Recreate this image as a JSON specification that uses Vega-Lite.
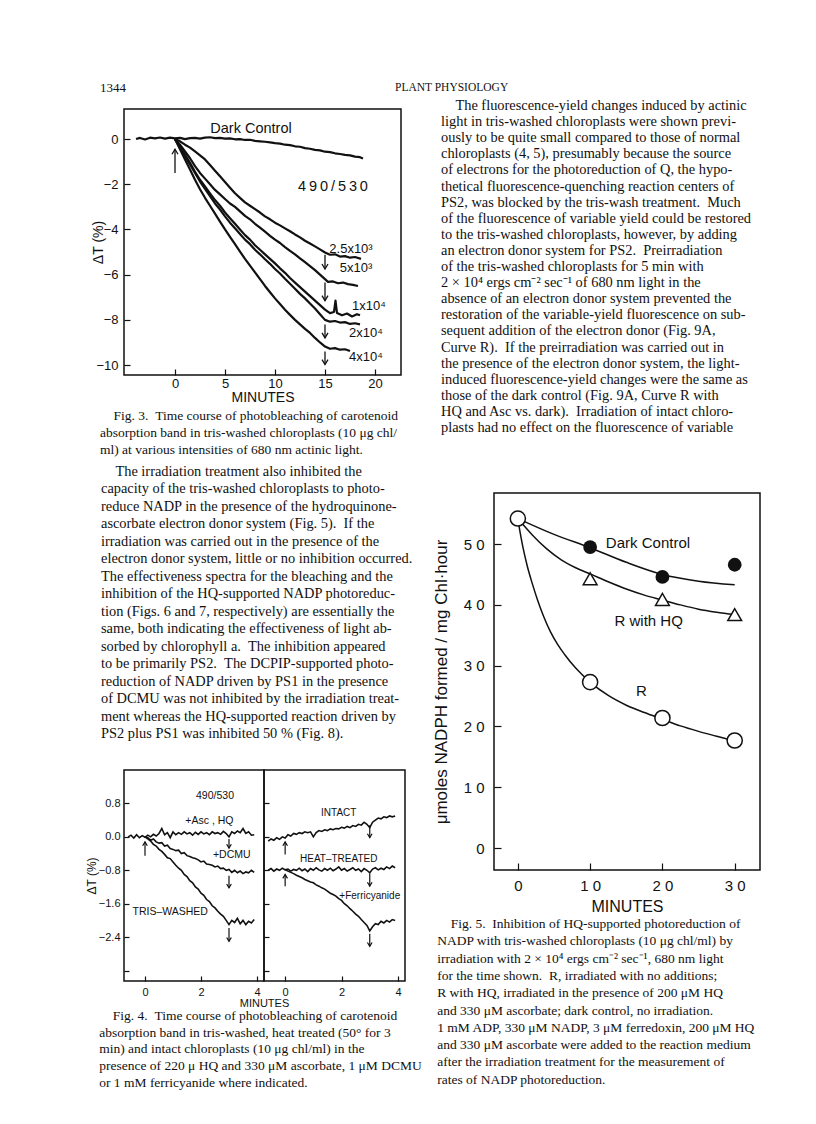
{
"$schema": "https://vega.github.io/schema/vega-lite/v6.json",
"background": "white",
"padding": {"left": 84, "top": 82, "right": 5, "bottom": 5},
"config": {
  "view": {"stroke": "#111", "strokeWidth": 1.5},
  "axis": {"domain": false, "grid": false, "tickColor": "#111", "tickWidth": 1.2, "labelColor": "#111", "titleColor": "#111", "labelFont": "Liberation Sans", "titleFont": "Liberation Sans", "titleFontWeight": "normal", "labelFlush": false, "labelOverlap": false},
  "title": {"color": "#111", "font": "Liberation Serif", "fontWeight": "normal", "fontSize": 13.5}
},
"datasets": {
  "header": [{"w": "1344"}, {"w": "PLANT PHYSIOLOGY"}],
  "rt": [
    {"n": 1, "s": "\u200B\u2003The fluorescence-yield changes induced by actinic"},
    {"n": 2, "s": "light in tris-washed chloroplasts were shown previ-"},
    {"n": 3, "s": "ously to be quite small compared to those of normal"},
    {"n": 4, "s": "chloroplasts (4, 5), presumably because the source"},
    {"n": 5, "s": "of electrons for the photoreduction of Q, the hypo-"},
    {"n": 6, "s": "thetical fluorescence-quenching reaction centers of"},
    {"n": 7, "s": "PS2, was blocked by the tris-wash treatment.\u2002Much"},
    {"n": 8, "s": "of the fluorescence of variable yield could be restored"},
    {"n": 9, "s": "to the tris-washed chloroplasts, however, by adding"},
    {"n": 10, "s": "an electron donor system for PS2.\u2002Preirradiation"},
    {"n": 11, "s": "of the tris-washed chloroplasts for 5 min with"},
    {"n": 12, "s": "2 × 10⁴ ergs cm⁻² sec⁻¹ of 680 nm light in the"},
    {"n": 13, "s": "absence of an electron donor system prevented the"},
    {"n": 14, "s": "restoration of the variable-yield fluorescence on sub-"},
    {"n": 15, "s": "sequent addition of the electron donor (Fig. 9A,"},
    {"n": 16, "s": "Curve R).\u2002If the preirradiation was carried out in"},
    {"n": 17, "s": "the presence of the electron donor system, the light-"},
    {"n": 18, "s": "induced fluorescence-yield changes were the same as"},
    {"n": 19, "s": "those of the dark control (Fig. 9A, Curve R with"},
    {"n": 20, "s": "HQ and Asc vs. dark).\u2002Irradiation of intact chloro-"},
    {"n": 21, "s": "plasts had no effect on the fluorescence of variable"}
  ],
  "lt": [
    {"n": 1, "s": "\u200B\u2003The irradiation treatment also inhibited the"},
    {"n": 2, "s": "capacity of the tris-washed chloroplasts to photo-"},
    {"n": 3, "s": "reduce NADP in the presence of the hydroquinone-"},
    {"n": 4, "s": "ascorbate electron donor system (Fig. 5).\u2002If the"},
    {"n": 5, "s": "irradiation was carried out in the presence of the"},
    {"n": 6, "s": "electron donor system, little or no inhibition occurred."},
    {"n": 7, "s": "The effectiveness spectra for the bleaching and the"},
    {"n": 8, "s": "inhibition of the HQ-supported NADP photoreduc-"},
    {"n": 9, "s": "tion (Figs. 6 and 7, respectively) are essentially the"},
    {"n": 10, "s": "same, both indicating the effectiveness of light ab-"},
    {"n": 11, "s": "sorbed by chlorophyll a.\u2002The inhibition appeared"},
    {"n": 12, "s": "to be primarily PS2.\u2002The DCPIP-supported photo-"},
    {"n": 13, "s": "reduction of NADP driven by PS1 in the presence"},
    {"n": 14, "s": "of DCMU was not inhibited by the irradiation treat-"},
    {"n": 15, "s": "ment whereas the HQ-supported reaction driven by"},
    {"n": 16, "s": "PS2 plus PS1 was inhibited 50 % (Fig. 8)."}
  ],
  "fig3": [
    {"s":"dc","t":-3.9,"v":0.0},{"s":"dc","t":-3.5,"v":0.05},{"s":"dc","t":-3,"v":-0.02},{"s":"dc","t":-2.5,"v":0.06},{"s":"dc","t":-2,"v":0.03},{"s":"dc","t":-1.5,"v":0.07},{"s":"dc","t":-1,"v":0.02},{"s":"dc","t":-0.5,"v":0.06},{"s":"dc","t":0,"v":0.03},{"s":"dc","t":0.5,"v":0.05},{"s":"dc","t":1,"v":0.0},{"s":"dc","t":1.5,"v":0.04},{"s":"dc","t":2,"v":0.05},{"s":"dc","t":2.5,"v":0.02},{"s":"dc","t":3,"v":0.06},{"s":"dc","t":3.5,"v":0.08},{"s":"dc","t":4,"v":0.04},{"s":"dc","t":4.5,"v":0.05},{"s":"dc","t":5,"v":0.02},{"s":"dc","t":5.5,"v":0.03},{"s":"dc","t":6,"v":-0.01},{"s":"dc","t":6.5,"v":0.0},{"s":"dc","t":7,"v":-0.04},{"s":"dc","t":7.5,"v":-0.03},{"s":"dc","t":8,"v":-0.08},{"s":"dc","t":8.5,"v":-0.1},{"s":"dc","t":9,"v":-0.12},{"s":"dc","t":9.5,"v":-0.15},{"s":"dc","t":10,"v":-0.18},{"s":"dc","t":10.5,"v":-0.2},{"s":"dc","t":11,"v":-0.25},{"s":"dc","t":11.5,"v":-0.27},{"s":"dc","t":12,"v":-0.32},{"s":"dc","t":12.5,"v":-0.34},{"s":"dc","t":13,"v":-0.4},{"s":"dc","t":13.5,"v":-0.43},{"s":"dc","t":14,"v":-0.48},{"s":"dc","t":14.5,"v":-0.5},{"s":"dc","t":15,"v":-0.56},{"s":"dc","t":15.5,"v":-0.58},{"s":"dc","t":16,"v":-0.63},{"s":"dc","t":16.5,"v":-0.66},{"s":"dc","t":17,"v":-0.7},{"s":"dc","t":17.5,"v":-0.72},{"s":"dc","t":18,"v":-0.78},{"s":"dc","t":18.5,"v":-0.8},{"s":"dc","t":18.8,"v":-0.86},
    {"s":"a","t":0,"v":0},{"s":"a","t":0.5,"v":-0.1},{"s":"a","t":1,"v":-0.25},{"s":"a","t":1.5,"v":-0.38},{"s":"a","t":2,"v":-0.55},{"s":"a","t":2.5,"v":-0.72},{"s":"a","t":3,"v":-0.9},{"s":"a","t":3.5,"v":-1.15},{"s":"a","t":4,"v":-1.4},{"s":"a","t":4.5,"v":-1.65},{"s":"a","t":5,"v":-1.9},{"s":"a","t":5.5,"v":-2.15},{"s":"a","t":6,"v":-2.4},{"s":"a","t":6.5,"v":-2.6},{"s":"a","t":7,"v":-2.8},{"s":"a","t":7.5,"v":-2.95},{"s":"a","t":8,"v":-3.1},{"s":"a","t":8.5,"v":-3.25},{"s":"a","t":9,"v":-3.42},{"s":"a","t":9.5,"v":-3.55},{"s":"a","t":10,"v":-3.7},{"s":"a","t":10.5,"v":-3.82},{"s":"a","t":11,"v":-3.95},{"s":"a","t":11.5,"v":-4.08},{"s":"a","t":12,"v":-4.22},{"s":"a","t":12.5,"v":-4.35},{"s":"a","t":13,"v":-4.5},{"s":"a","t":13.5,"v":-4.62},{"s":"a","t":14,"v":-4.75},{"s":"a","t":14.5,"v":-4.88},{"s":"a","t":15,"v":-5.02},{"s":"a","t":15.5,"v":-5.12},{"s":"a","t":16,"v":-5.1},{"s":"a","t":16.5,"v":-5.2},{"s":"a","t":17,"v":-5.18},{"s":"a","t":17.5,"v":-5.25},{"s":"a","t":18,"v":-5.22},{"s":"a","t":18.6,"v":-5.3},
    {"s":"b","t":0,"v":0},{"s":"b","t":0.5,"v":-0.25},{"s":"b","t":1,"v":-0.55},{"s":"b","t":1.5,"v":-0.85},{"s":"b","t":2,"v":-1.2},{"s":"b","t":2.5,"v":-1.5},{"s":"b","t":3,"v":-1.75},{"s":"b","t":3.5,"v":-2.0},{"s":"b","t":4,"v":-2.25},{"s":"b","t":4.5,"v":-2.45},{"s":"b","t":5,"v":-2.65},{"s":"b","t":5.5,"v":-2.85},{"s":"b","t":6,"v":-3.0},{"s":"b","t":6.5,"v":-3.2},{"s":"b","t":7,"v":-3.4},{"s":"b","t":7.5,"v":-3.55},{"s":"b","t":8,"v":-3.75},{"s":"b","t":8.5,"v":-3.92},{"s":"b","t":9,"v":-4.1},{"s":"b","t":9.5,"v":-4.28},{"s":"b","t":10,"v":-4.45},{"s":"b","t":10.5,"v":-4.6},{"s":"b","t":11,"v":-4.78},{"s":"b","t":11.5,"v":-4.95},{"s":"b","t":12,"v":-5.1},{"s":"b","t":12.5,"v":-5.28},{"s":"b","t":13,"v":-5.45},{"s":"b","t":13.5,"v":-5.62},{"s":"b","t":14,"v":-5.8},{"s":"b","t":14.5,"v":-6.0},{"s":"b","t":15,"v":-6.2},{"s":"b","t":15.3,"v":-6.32},{"s":"b","t":15.8,"v":-6.3},{"s":"b","t":16.3,"v":-6.38},{"s":"b","t":16.8,"v":-6.35},{"s":"b","t":17.3,"v":-6.42},{"s":"b","t":17.8,"v":-6.45},{"s":"b","t":18.3,"v":-6.5},
    {"s":"c","t":0,"v":0},{"s":"c","t":0.5,"v":-0.35},{"s":"c","t":1,"v":-0.7},{"s":"c","t":1.5,"v":-1.05},{"s":"c","t":2,"v":-1.45},{"s":"c","t":2.5,"v":-1.8},{"s":"c","t":3,"v":-2.1},{"s":"c","t":3.5,"v":-2.4},{"s":"c","t":4,"v":-2.7},{"s":"c","t":4.5,"v":-2.95},{"s":"c","t":5,"v":-3.25},{"s":"c","t":5.5,"v":-3.5},{"s":"c","t":6,"v":-3.75},{"s":"c","t":6.5,"v":-4.0},{"s":"c","t":7,"v":-4.25},{"s":"c","t":7.5,"v":-4.45},{"s":"c","t":8,"v":-4.7},{"s":"c","t":8.5,"v":-4.9},{"s":"c","t":9,"v":-5.1},{"s":"c","t":9.5,"v":-5.3},{"s":"c","t":10,"v":-5.5},{"s":"c","t":10.5,"v":-5.72},{"s":"c","t":11,"v":-5.92},{"s":"c","t":11.5,"v":-6.15},{"s":"c","t":12,"v":-6.35},{"s":"c","t":12.5,"v":-6.55},{"s":"c","t":13,"v":-6.75},{"s":"c","t":13.5,"v":-6.95},{"s":"c","t":14,"v":-7.15},{"s":"c","t":14.5,"v":-7.35},{"s":"c","t":15,"v":-7.55},{"s":"c","t":15.5,"v":-7.7},{"s":"c","t":15.9,"v":-7.65},{"s":"c","t":16.05,"v":-7.15},{"s":"c","t":16.2,"v":-7.7},{"s":"c","t":16.7,"v":-7.8},{"s":"c","t":17.2,"v":-7.72},{"s":"c","t":17.7,"v":-7.85},{"s":"c","t":18.2,"v":-7.75},{"s":"c","t":18.5,"v":-7.8},
    {"s":"e","t":0,"v":0},{"s":"e","t":0.5,"v":-0.38},{"s":"e","t":1,"v":-0.75},{"s":"e","t":1.5,"v":-1.12},{"s":"e","t":2,"v":-1.5},{"s":"e","t":2.5,"v":-1.88},{"s":"e","t":3,"v":-2.2},{"s":"e","t":3.5,"v":-2.52},{"s":"e","t":4,"v":-2.85},{"s":"e","t":4.5,"v":-3.12},{"s":"e","t":5,"v":-3.42},{"s":"e","t":5.5,"v":-3.7},{"s":"e","t":6,"v":-3.95},{"s":"e","t":6.5,"v":-4.2},{"s":"e","t":7,"v":-4.45},{"s":"e","t":7.5,"v":-4.65},{"s":"e","t":8,"v":-4.9},{"s":"e","t":8.5,"v":-5.1},{"s":"e","t":9,"v":-5.32},{"s":"e","t":9.5,"v":-5.52},{"s":"e","t":10,"v":-5.75},{"s":"e","t":10.5,"v":-5.95},{"s":"e","t":11,"v":-6.18},{"s":"e","t":11.5,"v":-6.4},{"s":"e","t":12,"v":-6.62},{"s":"e","t":12.5,"v":-6.85},{"s":"e","t":13,"v":-7.05},{"s":"e","t":13.5,"v":-7.28},{"s":"e","t":14,"v":-7.5},{"s":"e","t":14.5,"v":-7.75},{"s":"e","t":15,"v":-8.0},{"s":"e","t":15.5,"v":-8.08},{"s":"e","t":16,"v":-8.05},{"s":"e","t":16.5,"v":-8.12},{"s":"e","t":17,"v":-8.1},{"s":"e","t":17.5,"v":-8.18},{"s":"e","t":18,"v":-8.15},{"s":"e","t":18.5,"v":-8.2},
    {"s":"f","t":0,"v":0},{"s":"f","t":0.5,"v":-0.45},{"s":"f","t":1,"v":-0.9},{"s":"f","t":1.5,"v":-1.35},{"s":"f","t":2,"v":-1.8},{"s":"f","t":2.5,"v":-2.22},{"s":"f","t":3,"v":-2.6},{"s":"f","t":3.5,"v":-2.95},{"s":"f","t":4,"v":-3.3},{"s":"f","t":4.5,"v":-3.65},{"s":"f","t":5,"v":-4.0},{"s":"f","t":5.5,"v":-4.33},{"s":"f","t":6,"v":-4.65},{"s":"f","t":6.5,"v":-4.98},{"s":"f","t":7,"v":-5.3},{"s":"f","t":7.5,"v":-5.6},{"s":"f","t":8,"v":-5.9},{"s":"f","t":8.5,"v":-6.2},{"s":"f","t":9,"v":-6.5},{"s":"f","t":9.5,"v":-6.78},{"s":"f","t":10,"v":-7.05},{"s":"f","t":10.5,"v":-7.3},{"s":"f","t":11,"v":-7.55},{"s":"f","t":11.5,"v":-7.78},{"s":"f","t":12,"v":-8.0},{"s":"f","t":12.5,"v":-8.2},{"s":"f","t":13,"v":-8.4},{"s":"f","t":13.5,"v":-8.58},{"s":"f","t":14,"v":-8.8},{"s":"f","t":14.5,"v":-9.0},{"s":"f","t":15,"v":-9.18},{"s":"f","t":15.5,"v":-9.28},{"s":"f","t":16,"v":-9.25},{"s":"f","t":16.5,"v":-9.32},{"s":"f","t":17,"v":-9.3},{"s":"f","t":17.5,"v":-9.38}
  ],
  "fig3arrows": [
    {"t": 0, "tail": -1.5, "tip": -0.45, "dir": "up"},
    {"t": 15, "tail": -5.12, "tip": -5.75, "dir": "down"},
    {"t": 15, "tail": -6.35, "tip": -7.15, "dir": "down"},
    {"t": 15, "tail": -8.2, "tip": -8.8, "dir": "down"},
    {"t": 15, "tail": -9.4, "tip": -9.98, "dir": "down"}
  ],
  "fig3labels": [
    {"t": 7.6, "v": 0.44, "l": "Dark Control", "k": "big"},
    {"t": 15.8, "v": -2.1, "l": "4\u20099\u20090\u2009/\u20095\u20093\u20090", "k": "big"},
    {"t": 17.6, "v": -4.85, "l": "2.5x10³", "k": "small"},
    {"t": 18.1, "v": -5.7, "l": "5x10³", "k": "small"},
    {"t": 19.4, "v": -7.4, "l": "1x10⁴", "k": "small"},
    {"t": 19.1, "v": -8.6, "l": "2x10⁴", "k": "small"},
    {"t": 19.1, "v": -9.65, "l": "4x10⁴", "k": "small"}
  ],
  "fig4L": [
    {"s":"asc","t":-0.6,"v":0.0},{"s":"asc","t":-0.5,"v":0.04},{"s":"asc","t":-0.4,"v":-0.03},{"s":"asc","t":-0.3,"v":0.05},{"s":"asc","t":-0.2,"v":-0.02},{"s":"asc","t":-0.1,"v":0.03},{"s":"asc","t":0,"v":-0.01},{"s":"asc","t":0.1,"v":0.04},{"s":"asc","t":0.2,"v":0.0},{"s":"asc","t":0.3,"v":0.06},{"s":"asc","t":0.4,"v":0.02},{"s":"asc","t":0.5,"v":0.08},{"s":"asc","t":0.6,"v":0.2},{"s":"asc","t":0.7,"v":0.05},{"s":"asc","t":0.8,"v":0.1},{"s":"asc","t":0.9,"v":-0.02},{"s":"asc","t":1.0,"v":0.12},{"s":"asc","t":1.1,"v":0.05},{"s":"asc","t":1.2,"v":0.1},{"s":"asc","t":1.3,"v":0.06},{"s":"asc","t":1.4,"v":0.12},{"s":"asc","t":1.5,"v":0.07},{"s":"asc","t":1.6,"v":0.1},{"s":"asc","t":1.7,"v":0.04},{"s":"asc","t":1.8,"v":0.11},{"s":"asc","t":1.9,"v":0.06},{"s":"asc","t":2.0,"v":0.12},{"s":"asc","t":2.1,"v":0.07},{"s":"asc","t":2.2,"v":0.1},{"s":"asc","t":2.3,"v":0.05},{"s":"asc","t":2.4,"v":0.12},{"s":"asc","t":2.5,"v":0.08},{"s":"asc","t":2.6,"v":0.1},{"s":"asc","t":2.7,"v":0.06},{"s":"asc","t":2.8,"v":0.13},{"s":"asc","t":2.9,"v":0.08},{"s":"asc","t":3.0,"v":0.0},{"s":"asc","t":3.1,"v":0.12},{"s":"asc","t":3.2,"v":0.08},{"s":"asc","t":3.3,"v":0.14},{"s":"asc","t":3.4,"v":0.1},{"s":"asc","t":3.5,"v":0.2},{"s":"asc","t":3.6,"v":0.08},{"s":"asc","t":3.7,"v":0.12},{"s":"asc","t":3.8,"v":0.04},{"s":"asc","t":3.9,"v":0.05},
    {"s":"dcmu","t":0,"v":0.0},{"s":"dcmu","t":0.1,"v":-0.02},{"s":"dcmu","t":0.2,"v":-0.08},{"s":"dcmu","t":0.3,"v":-0.05},{"s":"dcmu","t":0.4,"v":-0.12},{"s":"dcmu","t":0.5,"v":-0.15},{"s":"dcmu","t":0.6,"v":-0.14},{"s":"dcmu","t":0.7,"v":-0.22},{"s":"dcmu","t":0.8,"v":-0.2},{"s":"dcmu","t":0.9,"v":-0.28},{"s":"dcmu","t":1.0,"v":-0.3},{"s":"dcmu","t":1.1,"v":-0.33},{"s":"dcmu","t":1.2,"v":-0.32},{"s":"dcmu","t":1.3,"v":-0.4},{"s":"dcmu","t":1.4,"v":-0.38},{"s":"dcmu","t":1.5,"v":-0.45},{"s":"dcmu","t":1.6,"v":-0.47},{"s":"dcmu","t":1.7,"v":-0.5},{"s":"dcmu","t":1.8,"v":-0.52},{"s":"dcmu","t":1.9,"v":-0.55},{"s":"dcmu","t":2.0,"v":-0.6},{"s":"dcmu","t":2.1,"v":-0.58},{"s":"dcmu","t":2.2,"v":-0.65},{"s":"dcmu","t":2.3,"v":-0.66},{"s":"dcmu","t":2.4,"v":-0.68},{"s":"dcmu","t":2.5,"v":-0.72},{"s":"dcmu","t":2.6,"v":-0.7},{"s":"dcmu","t":2.7,"v":-0.76},{"s":"dcmu","t":2.8,"v":-0.75},{"s":"dcmu","t":2.9,"v":-0.8},{"s":"dcmu","t":3.0,"v":-0.78},{"s":"dcmu","t":3.1,"v":-0.85},{"s":"dcmu","t":3.2,"v":-0.8},{"s":"dcmu","t":3.3,"v":-0.86},{"s":"dcmu","t":3.4,"v":-0.82},{"s":"dcmu","t":3.5,"v":-0.88},{"s":"dcmu","t":3.6,"v":-0.84},{"s":"dcmu","t":3.7,"v":-0.86},{"s":"dcmu","t":3.8,"v":-0.8},{"s":"dcmu","t":3.9,"v":-0.85},
    {"s":"tris","t":0,"v":0.0},{"s":"tris","t":0.1,"v":-0.05},{"s":"tris","t":0.2,"v":-0.1},{"s":"tris","t":0.3,"v":-0.18},{"s":"tris","t":0.4,"v":-0.22},{"s":"tris","t":0.5,"v":-0.3},{"s":"tris","t":0.6,"v":-0.35},{"s":"tris","t":0.7,"v":-0.42},{"s":"tris","t":0.8,"v":-0.5},{"s":"tris","t":0.9,"v":-0.52},{"s":"tris","t":1.0,"v":-0.6},{"s":"tris","t":1.1,"v":-0.68},{"s":"tris","t":1.2,"v":-0.75},{"s":"tris","t":1.3,"v":-0.8},{"s":"tris","t":1.4,"v":-0.9},{"s":"tris","t":1.5,"v":-0.95},{"s":"tris","t":1.6,"v":-1.05},{"s":"tris","t":1.7,"v":-1.1},{"s":"tris","t":1.8,"v":-1.2},{"s":"tris","t":1.9,"v":-1.25},{"s":"tris","t":2.0,"v":-1.35},{"s":"tris","t":2.1,"v":-1.4},{"s":"tris","t":2.2,"v":-1.5},{"s":"tris","t":2.3,"v":-1.55},{"s":"tris","t":2.4,"v":-1.65},{"s":"tris","t":2.5,"v":-1.7},{"s":"tris","t":2.6,"v":-1.78},{"s":"tris","t":2.7,"v":-1.85},{"s":"tris","t":2.8,"v":-1.9},{"s":"tris","t":2.9,"v":-2.0},{"s":"tris","t":3.0,"v":-2.1},{"s":"tris","t":3.1,"v":-2.0},{"s":"tris","t":3.2,"v":-2.05},{"s":"tris","t":3.3,"v":-1.95},{"s":"tris","t":3.4,"v":-2.08},{"s":"tris","t":3.5,"v":-2.0},{"s":"tris","t":3.6,"v":-2.1},{"s":"tris","t":3.7,"v":-2.02},{"s":"tris","t":3.8,"v":-2.06},{"s":"tris","t":3.9,"v":-1.98}
  ],
  "fig4R": [
    {"s":"intact","t":-0.6,"v":-0.1},{"s":"intact","t":-0.5,"v":-0.05},{"s":"intact","t":-0.4,"v":-0.08},{"s":"intact","t":-0.3,"v":-0.02},{"s":"intact","t":-0.2,"v":-0.06},{"s":"intact","t":-0.1,"v":0.0},{"s":"intact","t":0,"v":-0.03},{"s":"intact","t":0.1,"v":0.05},{"s":"intact","t":0.2,"v":0.02},{"s":"intact","t":0.3,"v":0.08},{"s":"intact","t":0.4,"v":0.06},{"s":"intact","t":0.5,"v":0.1},{"s":"intact","t":0.6,"v":0.08},{"s":"intact","t":0.7,"v":0.12},{"s":"intact","t":0.8,"v":0.1},{"s":"intact","t":0.9,"v":0.12},{"s":"intact","t":1.0,"v":0.0},{"s":"intact","t":1.1,"v":0.1},{"s":"intact","t":1.2,"v":0.15},{"s":"intact","t":1.3,"v":0.13},{"s":"intact","t":1.4,"v":0.17},{"s":"intact","t":1.5,"v":0.15},{"s":"intact","t":1.6,"v":0.19},{"s":"intact","t":1.7,"v":0.17},{"s":"intact","t":1.8,"v":0.2},{"s":"intact","t":1.9,"v":0.19},{"s":"intact","t":2.0,"v":0.23},{"s":"intact","t":2.1,"v":0.21},{"s":"intact","t":2.2,"v":0.25},{"s":"intact","t":2.3,"v":0.22},{"s":"intact","t":2.4,"v":0.27},{"s":"intact","t":2.5,"v":0.25},{"s":"intact","t":2.6,"v":0.3},{"s":"intact","t":2.7,"v":0.28},{"s":"intact","t":2.8,"v":0.35},{"s":"intact","t":2.9,"v":0.3},{"s":"intact","t":3.0,"v":0.22},{"s":"intact","t":3.1,"v":0.35},{"s":"intact","t":3.2,"v":0.4},{"s":"intact","t":3.3,"v":0.45},{"s":"intact","t":3.4,"v":0.43},{"s":"intact","t":3.5,"v":0.48},{"s":"intact","t":3.6,"v":0.46},{"s":"intact","t":3.7,"v":0.5},{"s":"intact","t":3.8,"v":0.48},{"s":"intact","t":3.9,"v":0.5},
    {"s":"heat","t":-0.6,"v":-0.8},{"s":"heat","t":-0.5,"v":-0.76},{"s":"heat","t":-0.4,"v":-0.82},{"s":"heat","t":-0.3,"v":-0.77},{"s":"heat","t":-0.2,"v":-0.8},{"s":"heat","t":-0.1,"v":-0.75},{"s":"heat","t":0,"v":-0.79},{"s":"heat","t":0.1,"v":-0.77},{"s":"heat","t":0.2,"v":-0.82},{"s":"heat","t":0.3,"v":-0.78},{"s":"heat","t":0.4,"v":-0.8},{"s":"heat","t":0.5,"v":-0.75},{"s":"heat","t":0.6,"v":-0.81},{"s":"heat","t":0.7,"v":-0.77},{"s":"heat","t":0.8,"v":-0.83},{"s":"heat","t":0.9,"v":-0.76},{"s":"heat","t":1.0,"v":-0.8},{"s":"heat","t":1.1,"v":-0.74},{"s":"heat","t":1.2,"v":-0.79},{"s":"heat","t":1.3,"v":-0.82},{"s":"heat","t":1.4,"v":-0.76},{"s":"heat","t":1.5,"v":-0.8},{"s":"heat","t":1.6,"v":-0.75},{"s":"heat","t":1.7,"v":-0.81},{"s":"heat","t":1.8,"v":-0.77},{"s":"heat","t":1.9,"v":-0.72},{"s":"heat","t":2.0,"v":-0.8},{"s":"heat","t":2.1,"v":-0.76},{"s":"heat","t":2.2,"v":-0.82},{"s":"heat","t":2.3,"v":-0.78},{"s":"heat","t":2.4,"v":-0.74},{"s":"heat","t":2.5,"v":-0.8},{"s":"heat","t":2.6,"v":-0.77},{"s":"heat","t":2.7,"v":-0.83},{"s":"heat","t":2.8,"v":-0.76},{"s":"heat","t":2.9,"v":-0.8},{"s":"heat","t":3.0,"v":-0.86},{"s":"heat","t":3.1,"v":-0.77},{"s":"heat","t":3.2,"v":-0.74},{"s":"heat","t":3.3,"v":-0.79},{"s":"heat","t":3.4,"v":-0.75},{"s":"heat","t":3.5,"v":-0.78},{"s":"heat","t":3.6,"v":-0.72},{"s":"heat","t":3.7,"v":-0.76},{"s":"heat","t":3.8,"v":-0.7},{"s":"heat","t":3.9,"v":-0.74},
    {"s":"ferri","t":0,"v":-0.78},{"s":"ferri","t":0.1,"v":-0.82},{"s":"ferri","t":0.2,"v":-0.85},{"s":"ferri","t":0.3,"v":-0.88},{"s":"ferri","t":0.4,"v":-0.92},{"s":"ferri","t":0.5,"v":-0.95},{"s":"ferri","t":0.6,"v":-0.98},{"s":"ferri","t":0.7,"v":-1.02},{"s":"ferri","t":0.8,"v":-1.05},{"s":"ferri","t":0.9,"v":-1.08},{"s":"ferri","t":1.0,"v":-1.1},{"s":"ferri","t":1.1,"v":-1.15},{"s":"ferri","t":1.2,"v":-1.18},{"s":"ferri","t":1.3,"v":-1.22},{"s":"ferri","t":1.4,"v":-1.25},{"s":"ferri","t":1.5,"v":-1.3},{"s":"ferri","t":1.6,"v":-1.35},{"s":"ferri","t":1.7,"v":-1.38},{"s":"ferri","t":1.8,"v":-1.42},{"s":"ferri","t":1.9,"v":-1.48},{"s":"ferri","t":2.0,"v":-1.52},{"s":"ferri","t":2.1,"v":-1.6},{"s":"ferri","t":2.2,"v":-1.65},{"s":"ferri","t":2.3,"v":-1.72},{"s":"ferri","t":2.4,"v":-1.78},{"s":"ferri","t":2.5,"v":-1.85},{"s":"ferri","t":2.6,"v":-1.9},{"s":"ferri","t":2.7,"v":-1.98},{"s":"ferri","t":2.8,"v":-2.05},{"s":"ferri","t":2.9,"v":-2.12},{"s":"ferri","t":3.0,"v":-2.25},{"s":"ferri","t":3.1,"v":-2.15},{"s":"ferri","t":3.2,"v":-2.08},{"s":"ferri","t":3.3,"v":-2.1},{"s":"ferri","t":3.4,"v":-2.02},{"s":"ferri","t":3.5,"v":-2.06},{"s":"ferri","t":3.6,"v":-2.0},{"s":"ferri","t":3.7,"v":-2.04},{"s":"ferri","t":3.8,"v":-1.98},{"s":"ferri","t":3.9,"v":-2.0}
  ],
  "fig4Larrows": [
    {"t": 0, "tail": -0.45, "tip": -0.12, "dir": "up"},
    {"t": 3, "tail": -0.05, "tip": -0.27, "dir": "down"},
    {"t": 3, "tail": -0.93, "tip": -1.22, "dir": "down"},
    {"t": 3, "tail": -2.18, "tip": -2.5, "dir": "down"}
  ],
  "fig4Rarrows": [
    {"t": 0, "tail": -0.42, "tip": -0.12, "dir": "up"},
    {"t": 0, "tail": -1.18, "tip": -0.9, "dir": "up"},
    {"t": 3, "tail": 0.28, "tip": -0.02, "dir": "down"},
    {"t": 3, "tail": -0.88, "tip": -1.18, "dir": "down"},
    {"t": 3, "tail": -2.32, "tip": -2.62, "dir": "down"}
  ],
  "fig4Llabels": [
    {"t": 2.5, "v": 0.98, "l": "490/530"},
    {"t": 2.3, "v": 0.38, "l": "+Asc , HQ"},
    {"t": 3.1, "v": -0.44, "l": "+DCMU"},
    {"t": 0.9, "v": -1.8, "l": "TRIS–WASHED"}
  ],
  "fig4Rlabels": [
    {"t": 1.9, "v": 0.57, "l": "INTACT"},
    {"t": 1.9, "v": -0.53, "l": "HEAT–TREATED"},
    {"t": 3.0, "v": -1.42, "l": "+Ferricyanide"}
  ],
  "fig5fit": [
    {"s":"dark","t":0,"v":54.2},{"s":"dark","t":5,"v":51.6},{"s":"dark","t":10,"v":49.4},{"s":"dark","t":15,"v":47.0},{"s":"dark","t":20,"v":45.0},{"s":"dark","t":25,"v":43.9},{"s":"dark","t":30,"v":43.3},
    {"s":"rhq","t":0,"v":54.2},{"s":"rhq","t":2,"v":51.5},{"s":"rhq","t":4,"v":49.2},{"s":"rhq","t":6,"v":47.4},{"s":"rhq","t":8,"v":46.1},{"s":"rhq","t":10,"v":45.1},{"s":"rhq","t":12.5,"v":43.8},{"s":"rhq","t":15,"v":42.6},{"s":"rhq","t":17.5,"v":41.6},{"s":"rhq","t":20,"v":40.8},{"s":"rhq","t":22.5,"v":40.0},{"s":"rhq","t":25,"v":39.3},{"s":"rhq","t":27.5,"v":38.8},{"s":"rhq","t":30,"v":38.4},
    {"s":"r","t":0,"v":54.2},{"s":"r","t":0.3,"v":52.0},{"s":"r","t":0.7,"v":49.5},{"s":"r","t":1.3,"v":46.4},{"s":"r","t":2,"v":43.5},{"s":"r","t":2.7,"v":40.9},{"s":"r","t":3.5,"v":38.3},{"s":"r","t":4.5,"v":35.6},{"s":"r","t":5.5,"v":33.5},{"s":"r","t":6.5,"v":31.8},{"s":"r","t":8,"v":29.6},{"s":"r","t":10,"v":27.3},{"s":"r","t":12.5,"v":25.1},{"s":"r","t":15,"v":23.5},{"s":"r","t":17.5,"v":22.3},{"s":"r","t":20,"v":21.2},{"s":"r","t":22.5,"v":20.1},{"s":"r","t":25,"v":19.2},{"s":"r","t":27.5,"v":18.4},{"s":"r","t":30,"v":17.6}
  ],
  "fig5pts": [
    {"s":"dark","t":10,"v":49.5},{"s":"dark","t":20,"v":44.6},{"s":"dark","t":30,"v":46.6},
    {"s":"rhq","t":10,"v":44.3},{"s":"rhq","t":20,"v":40.9},{"s":"rhq","t":30,"v":38.4},
    {"s":"r","t":0,"v":54.2},{"s":"r","t":10,"v":27.3},{"s":"r","t":20,"v":21.4},{"s":"r","t":30,"v":17.7}
  ],
  "fig5labels": [
    {"t": 18, "v": 50.2, "l": "Dark Control"},
    {"t": 18.1, "v": 37.3, "l": "R with HQ"},
    {"t": 17.1, "v": 25.8, "l": "R"}
  ]
},
"spacing": 3,
"vconcat": [
  {
    "width": 295, "height": 12,
    "view": {"stroke": null},
    "data": {"name": "header"},
    "layer": [
      {
        "transform": [{"filter": "datum.w == '1344'"}],
        "mark": {"type": "text", "align": "left", "baseline": "middle", "dx": -24, "font": "Liberation Serif", "fontSize": 13, "color": "#111"},
        "encoding": {
          "x": {"field": "w", "type": "nominal", "scale": {"type": "point", "padding": 0, "domain": ["1344", "PLANT PHYSIOLOGY"]}, "axis": null},
          "text": {"field": "w"}
        }
      },
      {
        "transform": [{"filter": "datum.w != '1344'"}],
        "mark": {"type": "text", "align": "left", "baseline": "middle", "dx": -24, "font": "Liberation Serif", "fontSize": 11.5, "color": "#111"},
        "encoding": {
          "x": {"field": "w", "type": "nominal", "scale": {"type": "point", "padding": 0, "domain": ["1344", "PLANT PHYSIOLOGY"]}, "axis": null},
          "text": {"field": "w"}
        }
      }
    ]
  },
  {
    "spacing": 9,
    "hconcat": [
      {
        "spacing": 26,
        "vconcat": [
          {
            "spacing": 5,
            "vconcat": [
              {
                "width": 277, "height": 266,
                "title": {"text": ["\u200B\u2003Fig. 3.\u2002Time course of photobleaching of carotenoid", "absorption band in tris-washed chloroplasts (10 μg chl/", "ml) at various intensities of 680 nm actinic light."], "orient": "bottom", "anchor": "start", "offset": 5, "dx": 9, "lineHeight": 17, "fontSize": 13.5},
                "layer": [
                  {
                    "data": {"name": "fig3"},
                    "mark": {"type": "line", "strokeWidth": 2.2, "color": "#111", "strokeJoin": "round"},
                    "encoding": {
                      "x": {"field": "t", "type": "quantitative", "title": "MINUTES", "scale": {"domain": [-5.1, 22.6], "nice": false, "zero": false}, "axis": {"values": [0, 5, 10, 15, 20], "tickSize": -6, "labelPadding": 8, "labelFontSize": 13, "titleFontSize": 14, "titlePadding": 0}},
                      "y": {"field": "v", "type": "quantitative", "title": "ΔT (%)", "scale": {"domain": [-10.44, 1.33], "nice": false, "zero": false}, "axis": {"values": [-10, -9, -8, -7, -6, -5, -4, -3, -2, -1, 0, 1], "tickSize": -6, "labelPadding": 12, "labelExpr": "datum.value % 2 == 0 ? datum.label : ''", "labelFontSize": 13, "titleFontSize": 14, "titleX": -19}},
                      "detail": {"field": "s"}
                    }
                  },
                  {
                    "data": {"name": "fig3arrows"},
                    "mark": {"type": "rule", "strokeWidth": 1.3, "color": "#111"},
                    "encoding": {
                      "x": {"field": "t", "type": "quantitative", "title": "MINUTES"},
                      "y": {"field": "tail", "type": "quantitative", "title": "ΔT (%)"},
                      "y2": {"field": "tip"}
                    }
                  },
                  {
                    "data": {"name": "fig3arrows"},
                    "mark": {"type": "point", "filled": false, "strokeWidth": 1.3, "size": 100, "color": "#111", "opacity": 1},
                    "encoding": {
                      "x": {"field": "t", "type": "quantitative", "title": "MINUTES"},
                      "y": {"field": "tip", "type": "quantitative", "title": "ΔT (%)"},
                      "shape": {"field": "dir", "type": "nominal", "scale": {"domain": ["up", "down"], "range": ["M-0.6,1L0,0L0.6,1", "M-0.6,-1L0,0L0.6,-1"]}, "legend": null}
                    }
                  },
                  {
                    "data": {"name": "fig3labels"},
                    "transform": [{"filter": "datum.k == 'big'"}],
                    "mark": {"type": "text", "font": "Liberation Sans", "fontSize": 14.5, "color": "#111"},
                    "encoding": {
                      "x": {"field": "t", "type": "quantitative", "title": "MINUTES"},
                      "y": {"field": "v", "type": "quantitative", "title": "ΔT (%)"},
                      "text": {"field": "l"}
                    }
                  },
                  {
                    "data": {"name": "fig3labels"},
                    "transform": [{"filter": "datum.k == 'small'"}],
                    "mark": {"type": "text", "font": "Liberation Sans", "fontSize": 13, "color": "#111"},
                    "encoding": {
                      "x": {"field": "t", "type": "quantitative", "title": "MINUTES"},
                      "y": {"field": "v", "type": "quantitative", "title": "ΔT (%)"},
                      "text": {"field": "l"}
                    }
                  }
                ]
              },
              {
                "width": 280, "height": {"step": 17.5},
                "view": {"stroke": null},
                "data": {"name": "lt"},
                "mark": {"type": "text", "align": "left", "baseline": "middle", "dx": -23, "font": "Liberation Serif", "fontSize": 14.4, "color": "#111"},
                "encoding": {
                  "y": {"field": "n", "type": "ordinal", "axis": null},
                  "x": {"datum": 0, "type": "quantitative", "scale": {"domain": [0, 1]}, "axis": null},
                  "text": {"field": "s"}
                }
              }
            ]
          },
          {
            "title": {"text": ["\u200B\u2003Fig. 4.\u2002Time course of photobleaching of carotenoid", "absorption band in tris-washed, heat treated (50° for 3", "min) and intact chloroplasts (10 μg chl/ml) in the", "presence of 220 μ HQ and 330 μM ascorbate, 1 μM DCMU", "or 1 mM ferricyanide where indicated."], "orient": "bottom", "anchor": "start", "offset": 0, "dx": 15, "lineHeight": 16.8, "fontSize": 13.5},
            "spacing": 0,
            "bounds": "flush",
            "hconcat": [
              {
                "width": 140, "height": 211,
                "layer": [
                  {
                    "data": {"name": "fig4L"},
                    "mark": {"type": "line", "strokeWidth": 1.6, "color": "#111"},
                    "encoding": {
                      "x": {"field": "t", "type": "quantitative", "title": "MINUTES", "scale": {"domain": [-0.75, 4.25], "nice": false, "zero": false}, "axis": {"values": [0, 1, 2, 3, 4], "tickSize": -5, "labelPadding": 10, "labelFontSize": 11, "titleFontSize": 11, "titlePadding": 0, "titleX": 140}},
                      "y": {"field": "v", "type": "quantitative", "title": "ΔT (%)", "scale": {"domain": [-3.45, 1.6], "nice": false, "zero": false}, "axis": {"values": [-3.2, -2.8, -2.4, -2.0, -1.6, -1.2, -0.8, -0.4, 0, 0.4, 0.8, 1.2], "tickSize": -5, "labelPadding": 9, "labelFontSize": 11, "titleFontSize": 12, "titleX": -26, "labelExpr": "(abs(round(datum.value*10)) % 8 == 0 && datum.value > -3) ? format(datum.value, '.1f') : ''"}},
                      "detail": {"field": "s"}
                    }
                  },
                  {
                    "data": {"name": "fig4Larrows"},
                    "mark": {"type": "rule", "strokeWidth": 1.2, "color": "#111"},
                    "encoding": {
                      "x": {"field": "t", "type": "quantitative", "title": "MINUTES"},
                      "y": {"field": "tail", "type": "quantitative", "title": "ΔT (%)"},
                      "y2": {"field": "tip"}
                    }
                  },
                  {
                    "data": {"name": "fig4Larrows"},
                    "mark": {"type": "point", "filled": false, "strokeWidth": 1.2, "size": 60, "color": "#111", "opacity": 1},
                    "encoding": {
                      "x": {"field": "t", "type": "quantitative", "title": "MINUTES"},
                      "y": {"field": "tip", "type": "quantitative", "title": "ΔT (%)"},
                      "shape": {"field": "dir", "type": "nominal", "scale": {"domain": ["up", "down"], "range": ["M-0.6,1L0,0L0.6,1", "M-0.6,-1L0,0L0.6,-1"]}, "legend": null}
                    }
                  },
                  {
                    "data": {"name": "fig4Llabels"},
                    "mark": {"type": "text", "font": "Liberation Sans", "fontSize": 10.5, "color": "#111"},
                    "encoding": {
                      "x": {"field": "t", "type": "quantitative", "title": "MINUTES"},
                      "y": {"field": "v", "type": "quantitative", "title": "ΔT (%)"},
                      "text": {"field": "l"}
                    }
                  }
                ]
              },
              {
                "width": 141, "height": 211,
                "layer": [
                  {
                    "data": {"name": "fig4R"},
                    "mark": {"type": "line", "strokeWidth": 1.6, "color": "#111"},
                    "encoding": {
                      "x": {"field": "t", "type": "quantitative", "title": null, "scale": {"domain": [-0.75, 4.25], "nice": false, "zero": false}, "axis": {"values": [0, 1, 2, 3, 4], "tickSize": -5, "labelPadding": 10, "labelFontSize": 11}},
                      "y": {"field": "v", "type": "quantitative", "title": null, "scale": {"domain": [-3.45, 1.6], "nice": false, "zero": false}, "axis": {"values": [-3.2, -2.8, -2.4, -2.0, -1.6, -1.2, -0.8, -0.4, 0, 0.4, 0.8, 1.2], "tickSize": -5, "labels": false, "minExtent": 0}},
                      "detail": {"field": "s"}
                    }
                  },
                  {
                    "data": {"name": "fig4Rarrows"},
                    "mark": {"type": "rule", "strokeWidth": 1.2, "color": "#111"},
                    "encoding": {
                      "x": {"field": "t", "type": "quantitative", "title": null},
                      "y": {"field": "tail", "type": "quantitative", "title": null},
                      "y2": {"field": "tip"}
                    }
                  },
                  {
                    "data": {"name": "fig4Rarrows"},
                    "mark": {"type": "point", "filled": false, "strokeWidth": 1.2, "size": 60, "color": "#111", "opacity": 1},
                    "encoding": {
                      "x": {"field": "t", "type": "quantitative", "title": null},
                      "y": {"field": "tip", "type": "quantitative", "title": null},
                      "shape": {"field": "dir", "type": "nominal", "scale": {"domain": ["up", "down"], "range": ["M-0.6,1L0,0L0.6,1", "M-0.6,-1L0,0L0.6,-1"]}, "legend": null}
                    }
                  },
                  {
                    "data": {"name": "fig4Rlabels"},
                    "mark": {"type": "text", "font": "Liberation Sans", "fontSize": 10, "color": "#111"},
                    "encoding": {
                      "x": {"field": "t", "type": "quantitative", "title": null},
                      "y": {"field": "v", "type": "quantitative", "title": null},
                      "text": {"field": "l"}
                    }
                  }
                ]
              }
            ]
          }
        ]
      },
      {
        "spacing": 44,
        "vconcat": [
          {
            "width": 266, "height": {"step": 16.1},
            "view": {"stroke": null},
            "data": {"name": "rt"},
            "mark": {"type": "text", "align": "left", "baseline": "middle", "dx": -53, "dy": -11, "font": "Liberation Serif", "fontSize": 14.4, "color": "#111"},
            "encoding": {
              "y": {"field": "n", "type": "ordinal", "axis": null},
              "x": {"datum": 0, "type": "quantitative", "scale": {"domain": [0, 1]}, "axis": null},
              "text": {"field": "s"}
            }
          },
          {
            "width": 266, "height": 377,
            "title": {"text": ["\u200B\u2003Fig. 5.\u2002Inhibition of HQ-supported photoreduction of", "NADP with tris-washed chloroplasts (10 μg chl/ml) by", "irradiation with 2 × 10⁴ ergs cm⁻² sec⁻¹, 680 nm light", "for the time shown.\u2002R, irradiated with no additions;", "R with HQ, irradiated in the presence of 200 μM HQ", "and 330 μM ascorbate; dark control, no irradiation.", "1 mM ADP, 330 μM NADP, 3 μM ferredoxin, 200 μM HQ", "and 330 μM ascorbate were added to the reaction medium", "after the irradiation treatment for the measurement of", "rates of NADP photoreduction."], "orient": "bottom", "anchor": "start", "offset": 3, "dx": 5, "lineHeight": 17.3, "fontSize": 13.5},
            "layer": [
              {
                "data": {"name": "fig5fit"},
                "mark": {"type": "line", "interpolate": "monotone", "strokeWidth": 1.5, "color": "#111"},
                "encoding": {
                  "x": {"field": "t", "type": "quantitative", "title": "MINUTES", "scale": {"domain": [-3.3, 33.5], "nice": false, "zero": false}, "axis": {"values": [0, 10, 20, 30], "tickSize": -7, "labelPadding": 15, "labelFontSize": 15, "titleFontSize": 16, "titlePadding": 5, "labelExpr": "join(split(datum.label, ''), ' ')"}},
                  "y": {"field": "v", "type": "quantitative", "title": "μmoles NADPH formed / mg Chl·hour", "scale": {"domain": [-3.6, 58.4], "nice": false, "zero": false}, "axis": {"values": [0, 10, 20, 30, 40, 50], "tickSize": -7, "labelPadding": 17, "labelFontSize": 15, "titleFontSize": 17, "titlePadding": 13, "labelExpr": "join(split(datum.label, ''), ' ')"}},
                  "detail": {"field": "s"}
                }
              },
              {
                "data": {"name": "fig5pts"},
                "transform": [{"filter": "datum.s == 'dark'"}],
                "mark": {"type": "point", "shape": "circle", "filled": true, "size": 190, "color": "#111", "opacity": 1},
                "encoding": {
                  "x": {"field": "t", "type": "quantitative", "title": "MINUTES"},
                  "y": {"field": "v", "type": "quantitative", "title": "μmoles NADPH formed / mg Chl·hour"}
                }
              },
              {
                "data": {"name": "fig5pts"},
                "transform": [{"filter": "datum.s == 'rhq'"}],
                "mark": {"type": "point", "shape": "triangle-up", "size": 190, "fill": "white", "stroke": "#111", "strokeWidth": 1.5, "opacity": 1},
                "encoding": {
                  "x": {"field": "t", "type": "quantitative", "title": "MINUTES"},
                  "y": {"field": "v", "type": "quantitative", "title": "μmoles NADPH formed / mg Chl·hour"}
                }
              },
              {
                "data": {"name": "fig5pts"},
                "transform": [{"filter": "datum.s == 'r'"}],
                "mark": {"type": "point", "shape": "circle", "size": 230, "fill": "white", "stroke": "#111", "strokeWidth": 1.5, "opacity": 1},
                "encoding": {
                  "x": {"field": "t", "type": "quantitative", "title": "MINUTES"},
                  "y": {"field": "v", "type": "quantitative", "title": "μmoles NADPH formed / mg Chl·hour"}
                }
              },
              {
                "data": {"name": "fig5labels"},
                "mark": {"type": "text", "font": "Liberation Sans", "fontSize": 15, "color": "#111"},
                "encoding": {
                  "x": {"field": "t", "type": "quantitative", "title": "MINUTES"},
                  "y": {"field": "v", "type": "quantitative", "title": "μmoles NADPH formed / mg Chl·hour"},
                  "text": {"field": "l"}
                }
              }
            ]
          }
        ]
      }
    ]
  }
]
}
